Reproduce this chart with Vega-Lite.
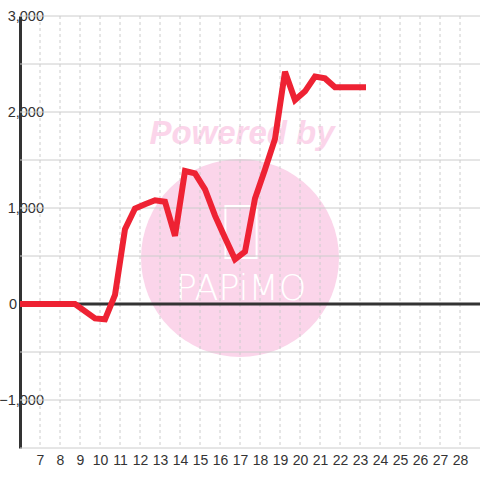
{
  "$schema": "https://vega.github.io/schema/vega-lite/v6.json",
  "width": 460,
  "height": 432,
  "autosize": {"type": "none"},
  "padding": {"left": 20, "top": 16, "right": 0, "bottom": 32},
  "background": "#ffffff",
  "config": {
    "view": {"stroke": null},
    "axisX": {"labelFont": "Liberation Sans", "labelColor": "#333333", "labelFontSize": 14, "labelPadding": 5, "labelBaseline": "top", "labelFlush": false, "labelOverlap": false, "domain": false, "ticks": false, "grid": false},
    "axisY": {"labelFont": "Liberation Sans", "labelColor": "#333333", "labelFontSize": 14.5, "labelAlign": "right", "labelBaseline": "middle", "labelFlush": false, "labelOverlap": false, "domain": true, "domainColor": "#333333", "domainWidth": 3, "ticks": false, "grid": false}
  },
  "layer": [
    {
      "data": {"values": [{"x": 17, "y": 479}]},
      "mark": {"type": "point", "filled": true, "size": 39200, "color": "#fbd5ea", "opacity": 1},
      "encoding": {
        "x": {"field": "x", "type": "quantitative", "scale": {"domain": [6, 29], "nice": false, "zero": false}, "title": null,
          "axis": {"values": [7, 8, 9, 10, 11, 12, 13, 14, 15, 16, 17, 18, 19, 20, 21, 22, 23, 24, 25, 26, 27, 28], "format": "d", "labelOverlap": false, "labelFontSize": 14, "labelFont": "Liberation Sans", "labelColor": "#333333", "labelPadding": 5, "labelBaseline": "top", "labelFlush": false, "domain": false, "ticks": false, "grid": false}},
        "y": {"field": "y", "type": "quantitative", "scale": {"domain": [-1500, 3000], "nice": false, "zero": false}, "title": null,
          "axis": {"values": [-1000, 0, 1000, 2000, 3000], "format": ",d", "labelOverlap": false, "labelFontSize": 14.5, "labelFont": "Liberation Sans", "labelColor": "#333333", "labelPadding": {"condition": {"test": "datum.value === 0", "value": 3.5}, "value": -23.5}, "labelAlign": "right", "labelBaseline": "middle", "labelFlush": false, "domain": true, "domainColor": "#333333", "domainWidth": 3, "ticks": false, "grid": false}}
      }
    },
    {
      "data": {"values": [{"x": 17.1, "y": 1776, "label": "Powered by"}]},
      "mark": {"type": "text", "font": "Liberation Sans", "fontWeight": "bold", "fontStyle": "italic", "fontSize": 33, "color": "#fbd5ea", "baseline": "middle", "align": "center"},
      "encoding": {
        "x": {"field": "x", "type": "quantitative", "title": null,
          "axis": {"values": [7, 8, 9, 10, 11, 12, 13, 14, 15, 16, 17, 18, 19, 20, 21, 22, 23, 24, 25, 26, 27, 28], "format": "d", "labelOverlap": false, "labelFontSize": 14, "labelFont": "Liberation Sans", "labelColor": "#333333", "labelPadding": 5, "labelBaseline": "top", "labelFlush": false, "domain": false, "ticks": false, "grid": false}},
        "y": {"field": "y", "type": "quantitative", "title": null,
          "axis": {"values": [-1000, 0, 1000, 2000, 3000], "format": ",d", "labelOverlap": false, "labelFontSize": 14.5, "labelFont": "Liberation Sans", "labelColor": "#333333", "labelPadding": {"condition": {"test": "datum.value === 0", "value": 3.5}, "value": -23.5}, "labelAlign": "right", "labelBaseline": "middle", "labelFlush": false, "domain": true, "domainColor": "#333333", "domainWidth": 3, "ticks": false, "grid": false}},
        "text": {"field": "label"}
      }
    },
    {
      "data": {"values": [{"x": 17.05, "y": 750}]},
      "mark": {"type": "point", "filled": false, "shape": "M-0.6,-1L0.6,-1L0.6,1L-0.6,1Z", "size": 2704, "stroke": "#ffffff", "strokeWidth": 2, "opacity": 1},
      "encoding": {
        "x": {"field": "x", "type": "quantitative", "title": null,
          "axis": {"values": [7, 8, 9, 10, 11, 12, 13, 14, 15, 16, 17, 18, 19, 20, 21, 22, 23, 24, 25, 26, 27, 28], "format": "d", "labelOverlap": false, "labelFontSize": 14, "labelFont": "Liberation Sans", "labelColor": "#333333", "labelPadding": 5, "labelBaseline": "top", "labelFlush": false, "domain": false, "ticks": false, "grid": false}},
        "y": {"field": "y", "type": "quantitative", "title": null,
          "axis": {"values": [-1000, 0, 1000, 2000, 3000], "format": ",d", "labelOverlap": false, "labelFontSize": 14.5, "labelFont": "Liberation Sans", "labelColor": "#333333", "labelPadding": {"condition": {"test": "datum.value === 0", "value": 3.5}, "value": -23.5}, "labelAlign": "right", "labelBaseline": "middle", "labelFlush": false, "domain": true, "domainColor": "#333333", "domainWidth": 3, "ticks": false, "grid": false}}
      }
    },
    {
      "data": {"values": [{"x": 17.05, "y": 161, "label": "PAPiMO"}]},
      "mark": {"type": "text", "font": "DejaVu Sans", "fontWeight": 300, "fontSize": 35, "color": "#ffffff", "baseline": "middle", "align": "center"},
      "encoding": {
        "x": {"field": "x", "type": "quantitative", "title": null,
          "axis": {"values": [7, 8, 9, 10, 11, 12, 13, 14, 15, 16, 17, 18, 19, 20, 21, 22, 23, 24, 25, 26, 27, 28], "format": "d", "labelOverlap": false, "labelFontSize": 14, "labelFont": "Liberation Sans", "labelColor": "#333333", "labelPadding": 5, "labelBaseline": "top", "labelFlush": false, "domain": false, "ticks": false, "grid": false}},
        "y": {"field": "y", "type": "quantitative", "title": null,
          "axis": {"values": [-1000, 0, 1000, 2000, 3000], "format": ",d", "labelOverlap": false, "labelFontSize": 14.5, "labelFont": "Liberation Sans", "labelColor": "#333333", "labelPadding": {"condition": {"test": "datum.value === 0", "value": 3.5}, "value": -23.5}, "labelAlign": "right", "labelBaseline": "middle", "labelFlush": false, "domain": true, "domainColor": "#333333", "domainWidth": 3, "ticks": false, "grid": false}},
        "text": {"field": "label"}
      }
    },
    {
      "data": {"values": [{"y": -1500}, {"y": -1000}, {"y": -500}, {"y": 500}, {"y": 1000}, {"y": 1500}, {"y": 2000}, {"y": 2500}, {"y": 3000}]},
      "mark": {"type": "rule", "color": "#cccccc", "strokeWidth": 1},
      "encoding": {
        "y": {"field": "y", "type": "quantitative", "title": null,
          "axis": {"values": [-1000, 0, 1000, 2000, 3000], "format": ",d", "labelOverlap": false, "labelFontSize": 14.5, "labelFont": "Liberation Sans", "labelColor": "#333333", "labelPadding": {"condition": {"test": "datum.value === 0", "value": 3.5}, "value": -23.5}, "labelAlign": "right", "labelBaseline": "middle", "labelFlush": false, "domain": true, "domainColor": "#333333", "domainWidth": 3, "ticks": false, "grid": false}}
      }
    },
    {
      "data": {"values": [{"x": 7}, {"x": 8}, {"x": 9}, {"x": 10}, {"x": 11}, {"x": 12}, {"x": 13}, {"x": 14}, {"x": 15}, {"x": 16}, {"x": 17}, {"x": 18}, {"x": 19}, {"x": 20}, {"x": 21}, {"x": 22}, {"x": 23}, {"x": 24}, {"x": 25}, {"x": 26}, {"x": 27}, {"x": 28}]},
      "mark": {"type": "rule", "color": "#cccccc", "strokeWidth": 1, "strokeDash": [3, 3]},
      "encoding": {
        "x": {"field": "x", "type": "quantitative", "title": null,
          "axis": {"values": [7, 8, 9, 10, 11, 12, 13, 14, 15, 16, 17, 18, 19, 20, 21, 22, 23, 24, 25, 26, 27, 28], "format": "d", "labelOverlap": false, "labelFontSize": 14, "labelFont": "Liberation Sans", "labelColor": "#333333", "labelPadding": 5, "labelBaseline": "top", "labelFlush": false, "domain": false, "ticks": false, "grid": false}}
      }
    },
    {
      "data": {"values": [{"y": 0}]},
      "mark": {"type": "rule", "color": "#333333", "strokeWidth": 3},
      "encoding": {
        "y": {"field": "y", "type": "quantitative", "title": null,
          "axis": {"values": [-1000, 0, 1000, 2000, 3000], "format": ",d", "labelOverlap": false, "labelFontSize": 14.5, "labelFont": "Liberation Sans", "labelColor": "#333333", "labelPadding": {"condition": {"test": "datum.value === 0", "value": 3.5}, "value": -23.5}, "labelAlign": "right", "labelBaseline": "middle", "labelFlush": false, "domain": true, "domainColor": "#333333", "domainWidth": 3, "ticks": false, "grid": false}}
      }
    },
    {
      "data": {"values": [
        {"x": 6, "y": 0}, {"x": 8.75, "y": 0}, {"x": 9.75, "y": -150}, {"x": 10.25, "y": -160},
        {"x": 10.75, "y": 95}, {"x": 11.25, "y": 780}, {"x": 11.75, "y": 995}, {"x": 12.25, "y": 1040},
        {"x": 12.75, "y": 1080}, {"x": 13.25, "y": 1065}, {"x": 13.75, "y": 710}, {"x": 14.25, "y": 1385},
        {"x": 14.75, "y": 1360}, {"x": 15.25, "y": 1195}, {"x": 15.75, "y": 920}, {"x": 16.25, "y": 690},
        {"x": 16.75, "y": 465}, {"x": 17.25, "y": 545}, {"x": 17.75, "y": 1100}, {"x": 18.25, "y": 1400},
        {"x": 18.75, "y": 1720}, {"x": 19.25, "y": 2420}, {"x": 19.75, "y": 2125}, {"x": 20.25, "y": 2215},
        {"x": 20.75, "y": 2370}, {"x": 21.25, "y": 2350}, {"x": 21.75, "y": 2257}, {"x": 22.25, "y": 2257},
        {"x": 22.75, "y": 2257}, {"x": 23.3, "y": 2257}
      ]},
      "mark": {"type": "line", "color": "#ee2233", "strokeWidth": 6, "strokeJoin": "miter", "strokeCap": "butt"},
      "encoding": {
        "x": {"field": "x", "type": "quantitative", "title": null,
          "axis": {"values": [7, 8, 9, 10, 11, 12, 13, 14, 15, 16, 17, 18, 19, 20, 21, 22, 23, 24, 25, 26, 27, 28], "format": "d", "labelOverlap": false, "labelFontSize": 14, "labelFont": "Liberation Sans", "labelColor": "#333333", "labelPadding": 5, "labelBaseline": "top", "labelFlush": false, "domain": false, "ticks": false, "grid": false}},
        "y": {"field": "y", "type": "quantitative", "title": null,
          "axis": {"values": [-1000, 0, 1000, 2000, 3000], "format": ",d", "labelOverlap": false, "labelFontSize": 14.5, "labelFont": "Liberation Sans", "labelColor": "#333333", "labelPadding": {"condition": {"test": "datum.value === 0", "value": 3.5}, "value": -23.5}, "labelAlign": "right", "labelBaseline": "middle", "labelFlush": false, "domain": true, "domainColor": "#333333", "domainWidth": 3, "ticks": false, "grid": false}}
      }
    }
  ]
}
